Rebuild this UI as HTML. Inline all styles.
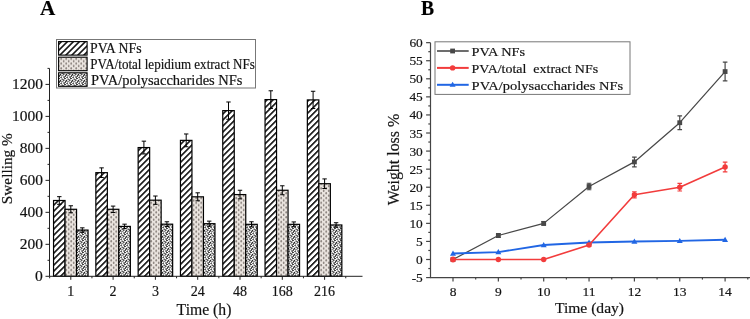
<!DOCTYPE html>
<html><head><meta charset="utf-8"><style>
html,body{margin:0;padding:0;background:#fff;}
body{width:750px;height:319px;overflow:hidden;font-family:"Liberation Serif",serif;}
svg{display:block;will-change:transform;}
</style></head><body>
<svg width="750" height="319" viewBox="0 0 750 319">
<rect width="750" height="319" fill="#fff"/>
<defs>
<pattern id="hatch" width="4.24" height="4.24" patternUnits="userSpaceOnUse" patternTransform="rotate(45)"><rect width="4.24" height="4.24" fill="#fff"/><rect x="0" y="0" width="1.5" height="4.24" fill="#000"/></pattern>
<pattern id="dots" width="5" height="4.8" patternUnits="userSpaceOnUse"><rect width="5" height="4.8" fill="#ebe5e0"/><ellipse cx="1.2" cy="1.2" rx="0.85" ry="1.25" fill="#8c847f"/><ellipse cx="3.7" cy="3.6" rx="0.85" ry="1.25" fill="#8c847f"/></pattern>
<pattern id="speck" width="6" height="6" patternUnits="userSpaceOnUse"><rect width="6" height="6" fill="#262626"/><circle cx="0.8" cy="0.9" r="1.0" fill="#fff"/><circle cx="3.2" cy="0.6" r="0.95" fill="#fff"/><circle cx="5.2" cy="1.7" r="1.0" fill="#fff"/><circle cx="2.0" cy="2.8" r="0.95" fill="#fff"/><circle cx="4.2" cy="3.6" r="1.0" fill="#fff"/><circle cx="0.6" cy="4.5" r="0.95" fill="#fff"/><circle cx="2.7" cy="5.1" r="1.0" fill="#fff"/><circle cx="5.5" cy="5.6" r="0.85" fill="#fff"/></pattern>
</defs>
<rect x="53.55" y="200.50" width="11.50" height="75.80" fill="url(#hatch)" stroke="#000" stroke-width="1.2"/>
<rect x="65.05" y="209.29" width="11.50" height="67.01" fill="url(#dots)" stroke="#000" stroke-width="1.2"/>
<rect x="76.55" y="230.08" width="11.50" height="46.22" fill="url(#speck)" stroke="#000" stroke-width="1.2"/>
<path d="M59.30 196.66V204.34M57.10 196.66H61.50M57.10 204.34H61.50" stroke="#000" stroke-width="1" fill="none"/>
<path d="M70.80 205.78V212.81M68.60 205.78H73.00M68.60 212.81H73.00" stroke="#000" stroke-width="1" fill="none"/>
<path d="M82.30 227.84V232.32M80.10 227.84H84.50M80.10 232.32H84.50" stroke="#000" stroke-width="1" fill="none"/>
<rect x="95.85" y="172.67" width="11.50" height="103.63" fill="url(#hatch)" stroke="#000" stroke-width="1.2"/>
<rect x="107.35" y="209.29" width="11.50" height="67.01" fill="url(#dots)" stroke="#000" stroke-width="1.2"/>
<rect x="118.85" y="226.40" width="11.50" height="49.90" fill="url(#speck)" stroke="#000" stroke-width="1.2"/>
<path d="M101.60 167.87V177.47M99.40 167.87H103.80M99.40 177.47H103.80" stroke="#000" stroke-width="1" fill="none"/>
<path d="M113.10 206.10V212.49M110.90 206.10H115.30M110.90 212.49H115.30" stroke="#000" stroke-width="1" fill="none"/>
<path d="M124.60 224.17V228.64M122.40 224.17H126.80M122.40 228.64H126.80" stroke="#000" stroke-width="1" fill="none"/>
<rect x="138.15" y="147.56" width="11.50" height="128.74" fill="url(#hatch)" stroke="#000" stroke-width="1.2"/>
<rect x="149.65" y="200.18" width="11.50" height="76.12" fill="url(#dots)" stroke="#000" stroke-width="1.2"/>
<rect x="161.15" y="224.17" width="11.50" height="52.13" fill="url(#speck)" stroke="#000" stroke-width="1.2"/>
<path d="M143.90 141.17V153.96M141.70 141.17H146.10M141.70 153.96H146.10" stroke="#000" stroke-width="1" fill="none"/>
<path d="M155.40 196.02V204.34M153.20 196.02H157.60M153.20 204.34H157.60" stroke="#000" stroke-width="1" fill="none"/>
<path d="M166.90 221.77V226.56M164.70 221.77H169.10M164.70 226.56H169.10" stroke="#000" stroke-width="1" fill="none"/>
<rect x="180.45" y="140.37" width="11.50" height="135.93" fill="url(#hatch)" stroke="#000" stroke-width="1.2"/>
<rect x="191.95" y="196.82" width="11.50" height="79.48" fill="url(#dots)" stroke="#000" stroke-width="1.2"/>
<rect x="203.45" y="223.69" width="11.50" height="52.61" fill="url(#speck)" stroke="#000" stroke-width="1.2"/>
<path d="M186.20 133.97V146.76M184.00 133.97H188.40M184.00 146.76H188.40" stroke="#000" stroke-width="1" fill="none"/>
<path d="M197.70 192.82V200.82M195.50 192.82H199.90M195.50 200.82H199.90" stroke="#000" stroke-width="1" fill="none"/>
<path d="M209.20 221.13V226.25M207.00 221.13H211.40M207.00 226.25H211.40" stroke="#000" stroke-width="1" fill="none"/>
<rect x="222.75" y="110.62" width="11.50" height="165.68" fill="url(#hatch)" stroke="#000" stroke-width="1.2"/>
<rect x="234.25" y="194.58" width="11.50" height="81.72" fill="url(#dots)" stroke="#000" stroke-width="1.2"/>
<rect x="245.75" y="224.33" width="11.50" height="51.97" fill="url(#speck)" stroke="#000" stroke-width="1.2"/>
<path d="M228.50 101.99V119.26M226.30 101.99H230.70M226.30 119.26H230.70" stroke="#000" stroke-width="1" fill="none"/>
<path d="M240.00 190.26V198.90M237.80 190.26H242.20M237.80 198.90H242.20" stroke="#000" stroke-width="1" fill="none"/>
<path d="M251.50 221.77V226.88M249.30 221.77H253.70M249.30 226.88H253.70" stroke="#000" stroke-width="1" fill="none"/>
<rect x="265.05" y="99.59" width="11.50" height="176.71" fill="url(#hatch)" stroke="#000" stroke-width="1.2"/>
<rect x="276.55" y="190.26" width="11.50" height="86.04" fill="url(#dots)" stroke="#000" stroke-width="1.2"/>
<rect x="288.05" y="224.33" width="11.50" height="51.97" fill="url(#speck)" stroke="#000" stroke-width="1.2"/>
<path d="M270.80 90.79V108.38M268.60 90.79H273.00M268.60 108.38H273.00" stroke="#000" stroke-width="1" fill="none"/>
<path d="M282.30 185.79V194.74M280.10 185.79H284.50M280.10 194.74H284.50" stroke="#000" stroke-width="1" fill="none"/>
<path d="M293.80 221.93V226.72M291.60 221.93H296.00M291.60 226.72H296.00" stroke="#000" stroke-width="1" fill="none"/>
<rect x="307.35" y="99.91" width="11.50" height="176.39" fill="url(#hatch)" stroke="#000" stroke-width="1.2"/>
<rect x="318.85" y="183.71" width="11.50" height="92.59" fill="url(#dots)" stroke="#000" stroke-width="1.2"/>
<rect x="330.35" y="224.97" width="11.50" height="51.33" fill="url(#speck)" stroke="#000" stroke-width="1.2"/>
<path d="M313.10 91.27V108.54M310.90 91.27H315.30M310.90 108.54H315.30" stroke="#000" stroke-width="1" fill="none"/>
<path d="M324.60 178.91V188.50M322.40 178.91H326.80M322.40 188.50H326.80" stroke="#000" stroke-width="1" fill="none"/>
<path d="M336.10 222.73V227.20M333.90 222.73H338.30M333.90 227.20H338.30" stroke="#000" stroke-width="1" fill="none"/>
<path d="M49.5 68.40V276.3H362.5" stroke="#222" stroke-width="1" fill="none"/>
<path d="M45.5 276.30H49.5" stroke="#222" stroke-width="1"/>
<text x="42.9" y="281.20" font-family="&quot;Liberation Serif&quot;, serif" stroke="#222" stroke-width="0.2" font-size="14.5" text-anchor="end" textLength="7.8" lengthAdjust="spacingAndGlyphs" fill="#111">0</text>
<path d="M47.5 260.31H49.5" stroke="#222" stroke-width="1"/>
<path d="M45.5 244.32H49.5" stroke="#222" stroke-width="1"/>
<text x="42.9" y="249.22" font-family="&quot;Liberation Serif&quot;, serif" stroke="#222" stroke-width="0.2" font-size="14.5" text-anchor="end" textLength="23.2" lengthAdjust="spacingAndGlyphs" fill="#111">200</text>
<path d="M47.5 228.32H49.5" stroke="#222" stroke-width="1"/>
<path d="M45.5 212.33H49.5" stroke="#222" stroke-width="1"/>
<text x="42.9" y="217.23" font-family="&quot;Liberation Serif&quot;, serif" stroke="#222" stroke-width="0.2" font-size="14.5" text-anchor="end" textLength="23.2" lengthAdjust="spacingAndGlyphs" fill="#111">400</text>
<path d="M47.5 196.34H49.5" stroke="#222" stroke-width="1"/>
<path d="M45.5 180.35H49.5" stroke="#222" stroke-width="1"/>
<text x="42.9" y="185.25" font-family="&quot;Liberation Serif&quot;, serif" stroke="#222" stroke-width="0.2" font-size="14.5" text-anchor="end" textLength="23.2" lengthAdjust="spacingAndGlyphs" fill="#111">600</text>
<path d="M47.5 164.36H49.5" stroke="#222" stroke-width="1"/>
<path d="M45.5 148.36H49.5" stroke="#222" stroke-width="1"/>
<text x="42.9" y="153.26" font-family="&quot;Liberation Serif&quot;, serif" stroke="#222" stroke-width="0.2" font-size="14.5" text-anchor="end" textLength="23.2" lengthAdjust="spacingAndGlyphs" fill="#111">800</text>
<path d="M47.5 132.37H49.5" stroke="#222" stroke-width="1"/>
<path d="M45.5 116.38H49.5" stroke="#222" stroke-width="1"/>
<text x="42.9" y="121.28" font-family="&quot;Liberation Serif&quot;, serif" stroke="#222" stroke-width="0.2" font-size="14.5" text-anchor="end" textLength="31.0" lengthAdjust="spacingAndGlyphs" fill="#111">1000</text>
<path d="M47.5 100.39H49.5" stroke="#222" stroke-width="1"/>
<path d="M45.5 84.40H49.5" stroke="#222" stroke-width="1"/>
<text x="42.9" y="89.30" font-family="&quot;Liberation Serif&quot;, serif" stroke="#222" stroke-width="0.2" font-size="14.5" text-anchor="end" textLength="31.0" lengthAdjust="spacingAndGlyphs" fill="#111">1200</text>
<path d="M47.5 68.40H49.5" stroke="#222" stroke-width="1"/>
<path d="M70.80 276.3V279.8" stroke="#222" stroke-width="1"/>
<text x="70.80" y="295.5" font-family="&quot;Liberation Serif&quot;, serif" stroke="#222" stroke-width="0.2" font-size="14" text-anchor="middle" fill="#111">1</text>
<path d="M113.10 276.3V279.8" stroke="#222" stroke-width="1"/>
<text x="113.10" y="295.5" font-family="&quot;Liberation Serif&quot;, serif" stroke="#222" stroke-width="0.2" font-size="14" text-anchor="middle" fill="#111">2</text>
<path d="M155.40 276.3V279.8" stroke="#222" stroke-width="1"/>
<text x="155.40" y="295.5" font-family="&quot;Liberation Serif&quot;, serif" stroke="#222" stroke-width="0.2" font-size="14" text-anchor="middle" fill="#111">3</text>
<path d="M197.70 276.3V279.8" stroke="#222" stroke-width="1"/>
<text x="197.70" y="295.5" font-family="&quot;Liberation Serif&quot;, serif" stroke="#222" stroke-width="0.2" font-size="14" text-anchor="middle" fill="#111">24</text>
<path d="M240.00 276.3V279.8" stroke="#222" stroke-width="1"/>
<text x="240.00" y="295.5" font-family="&quot;Liberation Serif&quot;, serif" stroke="#222" stroke-width="0.2" font-size="14" text-anchor="middle" fill="#111">48</text>
<path d="M282.30 276.3V279.8" stroke="#222" stroke-width="1"/>
<text x="282.30" y="295.5" font-family="&quot;Liberation Serif&quot;, serif" stroke="#222" stroke-width="0.2" font-size="14" text-anchor="middle" fill="#111">168</text>
<path d="M324.60 276.3V279.8" stroke="#222" stroke-width="1"/>
<text x="324.60" y="295.5" font-family="&quot;Liberation Serif&quot;, serif" stroke="#222" stroke-width="0.2" font-size="14" text-anchor="middle" fill="#111">216</text>
<path d="M49.65 276.3V278.3" stroke="#222" stroke-width="1"/>
<path d="M91.95 276.3V278.3" stroke="#222" stroke-width="1"/>
<path d="M134.25 276.3V278.3" stroke="#222" stroke-width="1"/>
<path d="M176.55 276.3V278.3" stroke="#222" stroke-width="1"/>
<path d="M218.85 276.3V278.3" stroke="#222" stroke-width="1"/>
<path d="M261.15 276.3V278.3" stroke="#222" stroke-width="1"/>
<path d="M303.45 276.3V278.3" stroke="#222" stroke-width="1"/>
<path d="M345.75 276.3V278.3" stroke="#222" stroke-width="1"/>
<text x="204" y="315" font-family="&quot;Liberation Serif&quot;, serif" stroke="#222" stroke-width="0.2" font-size="15.7" text-anchor="middle" fill="#111">Time (h)</text>
<text transform="translate(12.2 204.2) rotate(-90)" font-family="&quot;Liberation Serif&quot;, serif" stroke="#222" stroke-width="0.2" font-size="15.3" fill="#111">Swelling %</text>
<text x="40" y="15.3" font-family="&quot;Liberation Serif&quot;, serif" stroke="#222" stroke-width="0.2" font-size="21.7" font-weight="bold" textLength="15.3" lengthAdjust="spacingAndGlyphs" fill="#000">A</text>
<rect x="56.5" y="39.5" width="199" height="48.5" fill="#fff" stroke="#777" stroke-width="1"/>
<rect x="58.6" y="41.60" width="28.5" height="13.5" fill="url(#hatch)" stroke="#000" stroke-width="1.1"/>
<rect x="58.6" y="57.20" width="28.5" height="13.5" fill="url(#dots)" stroke="#000" stroke-width="1.1"/>
<rect x="58.6" y="72.80" width="28.5" height="13.5" fill="url(#speck)" stroke="#000" stroke-width="1.1"/>
<text x="90.0" y="53.0" font-family="&quot;Liberation Serif&quot;, serif" stroke="#222" stroke-width="0.2" font-size="14" textLength="51.5" lengthAdjust="spacingAndGlyphs" fill="#111">PVA NFs</text>
<text x="90.3" y="68.9" font-family="&quot;Liberation Serif&quot;, serif" stroke="#222" stroke-width="0.2" font-size="14" textLength="164.5" lengthAdjust="spacingAndGlyphs" fill="#111">PVA/total lepidium extract NFs</text>
<text x="91.0" y="85.1" font-family="&quot;Liberation Serif&quot;, serif" stroke="#222" stroke-width="0.2" font-size="14" textLength="151.5" lengthAdjust="spacingAndGlyphs" fill="#111">PVA/polysaccharides NFs</text>
<path d="M430.5 42.66V277.57H750" stroke="#444" stroke-width="1.2" fill="none"/>
<path d="M426.1 277.57H430.5" stroke="#444" stroke-width="1.2"/>
<text x="422.8" y="282.07" font-family="&quot;Liberation Serif&quot;, serif" stroke="#222" stroke-width="0.2" font-size="13.4" text-anchor="end" fill="#111">-5</text>
<path d="M428.3 268.54H430.5" stroke="#444" stroke-width="1.2"/>
<path d="M426.1 259.50H430.5" stroke="#444" stroke-width="1.2"/>
<text x="422.8" y="264.00" font-family="&quot;Liberation Serif&quot;, serif" stroke="#222" stroke-width="0.2" font-size="13.4" text-anchor="end" fill="#111">0</text>
<path d="M428.3 250.47H430.5" stroke="#444" stroke-width="1.2"/>
<path d="M426.1 241.43H430.5" stroke="#444" stroke-width="1.2"/>
<text x="422.8" y="245.93" font-family="&quot;Liberation Serif&quot;, serif" stroke="#222" stroke-width="0.2" font-size="13.4" text-anchor="end" fill="#111">5</text>
<path d="M428.3 232.40H430.5" stroke="#444" stroke-width="1.2"/>
<path d="M426.1 223.36H430.5" stroke="#444" stroke-width="1.2"/>
<text x="422.8" y="227.86" font-family="&quot;Liberation Serif&quot;, serif" stroke="#222" stroke-width="0.2" font-size="13.4" text-anchor="end" fill="#111">10</text>
<path d="M428.3 214.32H430.5" stroke="#444" stroke-width="1.2"/>
<path d="M426.1 205.29H430.5" stroke="#444" stroke-width="1.2"/>
<text x="422.8" y="209.79" font-family="&quot;Liberation Serif&quot;, serif" stroke="#222" stroke-width="0.2" font-size="13.4" text-anchor="end" fill="#111">15</text>
<path d="M428.3 196.25H430.5" stroke="#444" stroke-width="1.2"/>
<path d="M426.1 187.22H430.5" stroke="#444" stroke-width="1.2"/>
<text x="422.8" y="191.72" font-family="&quot;Liberation Serif&quot;, serif" stroke="#222" stroke-width="0.2" font-size="13.4" text-anchor="end" fill="#111">20</text>
<path d="M428.3 178.19H430.5" stroke="#444" stroke-width="1.2"/>
<path d="M426.1 169.15H430.5" stroke="#444" stroke-width="1.2"/>
<text x="422.8" y="173.65" font-family="&quot;Liberation Serif&quot;, serif" stroke="#222" stroke-width="0.2" font-size="13.4" text-anchor="end" fill="#111">25</text>
<path d="M428.3 160.12H430.5" stroke="#444" stroke-width="1.2"/>
<path d="M426.1 151.08H430.5" stroke="#444" stroke-width="1.2"/>
<text x="422.8" y="155.58" font-family="&quot;Liberation Serif&quot;, serif" stroke="#222" stroke-width="0.2" font-size="13.4" text-anchor="end" fill="#111">30</text>
<path d="M428.3 142.05H430.5" stroke="#444" stroke-width="1.2"/>
<path d="M426.1 133.01H430.5" stroke="#444" stroke-width="1.2"/>
<text x="422.8" y="137.51" font-family="&quot;Liberation Serif&quot;, serif" stroke="#222" stroke-width="0.2" font-size="13.4" text-anchor="end" fill="#111">35</text>
<path d="M428.3 123.97H430.5" stroke="#444" stroke-width="1.2"/>
<path d="M426.1 114.94H430.5" stroke="#444" stroke-width="1.2"/>
<text x="422.8" y="119.44" font-family="&quot;Liberation Serif&quot;, serif" stroke="#222" stroke-width="0.2" font-size="13.4" text-anchor="end" fill="#111">40</text>
<path d="M428.3 105.91H430.5" stroke="#444" stroke-width="1.2"/>
<path d="M426.1 96.87H430.5" stroke="#444" stroke-width="1.2"/>
<text x="422.8" y="101.37" font-family="&quot;Liberation Serif&quot;, serif" stroke="#222" stroke-width="0.2" font-size="13.4" text-anchor="end" fill="#111">45</text>
<path d="M428.3 87.84H430.5" stroke="#444" stroke-width="1.2"/>
<path d="M426.1 78.80H430.5" stroke="#444" stroke-width="1.2"/>
<text x="422.8" y="83.30" font-family="&quot;Liberation Serif&quot;, serif" stroke="#222" stroke-width="0.2" font-size="13.4" text-anchor="end" fill="#111">50</text>
<path d="M428.3 69.77H430.5" stroke="#444" stroke-width="1.2"/>
<path d="M426.1 60.73H430.5" stroke="#444" stroke-width="1.2"/>
<text x="422.8" y="65.23" font-family="&quot;Liberation Serif&quot;, serif" stroke="#222" stroke-width="0.2" font-size="13.4" text-anchor="end" fill="#111">55</text>
<path d="M428.3 51.69H430.5" stroke="#444" stroke-width="1.2"/>
<path d="M426.1 42.66H430.5" stroke="#444" stroke-width="1.2"/>
<text x="422.8" y="47.16" font-family="&quot;Liberation Serif&quot;, serif" stroke="#222" stroke-width="0.2" font-size="13.4" text-anchor="end" fill="#111">60</text>
<path d="M453.00 277.57V281.57" stroke="#444" stroke-width="1.2"/>
<text x="453.00" y="295.6" font-family="&quot;Liberation Serif&quot;, serif" stroke="#222" stroke-width="0.2" font-size="13.5" text-anchor="middle" fill="#111">8</text>
<path d="M475.68 277.57V279.57" stroke="#444" stroke-width="1.2"/>
<path d="M498.35 277.57V281.57" stroke="#444" stroke-width="1.2"/>
<text x="498.35" y="295.6" font-family="&quot;Liberation Serif&quot;, serif" stroke="#222" stroke-width="0.2" font-size="13.5" text-anchor="middle" fill="#111">9</text>
<path d="M521.02 277.57V279.57" stroke="#444" stroke-width="1.2"/>
<path d="M543.70 277.57V281.57" stroke="#444" stroke-width="1.2"/>
<text x="543.70" y="295.6" font-family="&quot;Liberation Serif&quot;, serif" stroke="#222" stroke-width="0.2" font-size="13.5" text-anchor="middle" fill="#111">10</text>
<path d="M566.38 277.57V279.57" stroke="#444" stroke-width="1.2"/>
<path d="M589.05 277.57V281.57" stroke="#444" stroke-width="1.2"/>
<text x="589.05" y="295.6" font-family="&quot;Liberation Serif&quot;, serif" stroke="#222" stroke-width="0.2" font-size="13.5" text-anchor="middle" fill="#111">11</text>
<path d="M611.73 277.57V279.57" stroke="#444" stroke-width="1.2"/>
<path d="M634.40 277.57V281.57" stroke="#444" stroke-width="1.2"/>
<text x="634.40" y="295.6" font-family="&quot;Liberation Serif&quot;, serif" stroke="#222" stroke-width="0.2" font-size="13.5" text-anchor="middle" fill="#111">12</text>
<path d="M657.08 277.57V279.57" stroke="#444" stroke-width="1.2"/>
<path d="M679.75 277.57V281.57" stroke="#444" stroke-width="1.2"/>
<text x="679.75" y="295.6" font-family="&quot;Liberation Serif&quot;, serif" stroke="#222" stroke-width="0.2" font-size="13.5" text-anchor="middle" fill="#111">13</text>
<path d="M702.42 277.57V279.57" stroke="#444" stroke-width="1.2"/>
<path d="M725.10 277.57V281.57" stroke="#444" stroke-width="1.2"/>
<text x="725.10" y="295.6" font-family="&quot;Liberation Serif&quot;, serif" stroke="#222" stroke-width="0.2" font-size="13.5" text-anchor="middle" fill="#111">14</text>
<path d="M747.78 277.57V279.57" stroke="#444" stroke-width="1.2"/>
<text x="589.5" y="313" font-family="&quot;Liberation Serif&quot;, serif" stroke="#222" stroke-width="0.2" font-size="15.6" text-anchor="middle" fill="#111">Time (day)</text>
<text transform="translate(399.2 205.3) rotate(-90)" font-family="&quot;Liberation Serif&quot;, serif" stroke="#222" stroke-width="0.2" font-size="16" textLength="91.5" lengthAdjust="spacingAndGlyphs" fill="#111">Weight loss %</text>
<text x="421" y="15.3" font-family="&quot;Liberation Serif&quot;, serif" stroke="#222" stroke-width="0.2" font-size="21.3" font-weight="bold" textLength="13.1" lengthAdjust="spacingAndGlyphs" fill="#000">B</text>
<polyline points="453.00,259.50 498.35,235.50 543.70,223.36 589.05,186.50 634.40,161.92 679.75,122.71 725.10,71.57" fill="none" stroke="#484848" stroke-width="1.25" stroke-linejoin="round"/>
<path d="M498.35 233.70V237.31M496.05 233.70H500.65M496.05 237.31H500.65" stroke="#484848" stroke-width="1.2" fill="none"/>
<path d="M543.70 221.55V225.17M541.40 221.55H546.00M541.40 225.17H546.00" stroke="#484848" stroke-width="1.2" fill="none"/>
<path d="M589.05 183.24V189.75M586.75 183.24H591.35M586.75 189.75H591.35" stroke="#484848" stroke-width="1.2" fill="none"/>
<path d="M634.40 157.04V166.80M632.10 157.04H636.70M632.10 166.80H636.70" stroke="#484848" stroke-width="1.2" fill="none"/>
<path d="M679.75 115.84V129.58M677.45 115.84H682.05M677.45 129.58H682.05" stroke="#484848" stroke-width="1.2" fill="none"/>
<path d="M725.10 62.18V80.97M722.80 62.18H727.40M722.80 80.97H727.40" stroke="#484848" stroke-width="1.2" fill="none"/>
<rect x="450.60" y="257.10" width="4.8" height="4.8" fill="#484848"/>
<rect x="495.95" y="233.10" width="4.8" height="4.8" fill="#484848"/>
<rect x="541.30" y="220.96" width="4.8" height="4.8" fill="#484848"/>
<rect x="586.65" y="184.10" width="4.8" height="4.8" fill="#484848"/>
<rect x="632.00" y="159.52" width="4.8" height="4.8" fill="#484848"/>
<rect x="677.35" y="120.31" width="4.8" height="4.8" fill="#484848"/>
<rect x="722.70" y="69.17" width="4.8" height="4.8" fill="#484848"/>
<polyline points="453.00,253.54 498.35,252.09 543.70,245.04 589.05,242.51 634.40,241.43 679.75,240.89 725.10,239.80" fill="none" stroke="#2166e4" stroke-width="1.9" stroke-linejoin="round"/>
<path d="M450.00 255.74L453.00 250.54L456.00 255.74Z" fill="#2166e4"/>
<path d="M495.35 254.29L498.35 249.09L501.35 254.29Z" fill="#2166e4"/>
<path d="M540.70 247.24L543.70 242.04L546.70 247.24Z" fill="#2166e4"/>
<path d="M586.05 244.71L589.05 239.51L592.05 244.71Z" fill="#2166e4"/>
<path d="M631.40 243.63L634.40 238.43L637.40 243.63Z" fill="#2166e4"/>
<path d="M676.75 243.09L679.75 237.89L682.75 243.09Z" fill="#2166e4"/>
<path d="M722.10 242.00L725.10 236.80L728.10 242.00Z" fill="#2166e4"/>
<polyline points="453.00,259.50 498.35,259.50 543.70,259.50 589.05,245.04 634.40,194.81 679.75,187.22 725.10,166.98" fill="none" stroke="#f23c3c" stroke-width="1.6" stroke-linejoin="round"/>
<path d="M589.05 243.96V246.13M586.75 243.96H591.35M586.75 246.13H591.35" stroke="#f23c3c" stroke-width="1.2" fill="none"/>
<path d="M634.40 191.74V197.88M632.10 191.74H636.70M632.10 197.88H636.70" stroke="#f23c3c" stroke-width="1.2" fill="none"/>
<path d="M679.75 183.43V191.01M677.45 183.43H682.05M677.45 191.01H682.05" stroke="#f23c3c" stroke-width="1.2" fill="none"/>
<path d="M725.10 162.10V171.86M722.80 162.10H727.40M722.80 171.86H727.40" stroke="#f23c3c" stroke-width="1.2" fill="none"/>
<circle cx="453.00" cy="259.50" r="2.9" fill="#f23c3c"/>
<circle cx="498.35" cy="259.50" r="2.7" fill="#f23c3c"/>
<circle cx="543.70" cy="259.50" r="2.7" fill="#f23c3c"/>
<circle cx="589.05" cy="245.04" r="2.7" fill="#f23c3c"/>
<circle cx="634.40" cy="194.81" r="2.7" fill="#f23c3c"/>
<circle cx="679.75" cy="187.22" r="2.7" fill="#f23c3c"/>
<circle cx="725.10" cy="166.98" r="2.7" fill="#f23c3c"/>
<rect x="435" y="41.8" width="195" height="52.6" fill="#fff" stroke="#777" stroke-width="1"/>
<path d="M437 51.0H468.7" stroke="#484848" stroke-width="1.6"/>
<rect x="450.20000000000005" y="48.6" width="4.8" height="4.8" fill="#484848"/>
<path d="M437 67.9H468.7" stroke="#f23c3c" stroke-width="2.0"/>
<circle cx="452.6" cy="67.9" r="2.7" fill="#f23c3c"/>
<path d="M437 84.8H468.7" stroke="#2166e4" stroke-width="2.0"/>
<path d="M449.6 86.8 L452.6 81.8 L455.6 86.8Z" fill="#2166e4"/>
<text x="471.6" y="56.0" font-family="&quot;Liberation Serif&quot;, serif" stroke="#222" stroke-width="0.2" font-size="13.5" textLength="53.5" lengthAdjust="spacingAndGlyphs" fill="#111">PVA NFs</text>
<text x="471.6" y="72.8" font-family="&quot;Liberation Serif&quot;, serif" stroke="#222" stroke-width="0.2" font-size="13.5" textLength="126.5" lengthAdjust="spacingAndGlyphs" fill="#111">PVA/total&#160; extract NFs</text>
<text x="471.6" y="89.5" font-family="&quot;Liberation Serif&quot;, serif" stroke="#222" stroke-width="0.2" font-size="13.5" textLength="151.5" lengthAdjust="spacingAndGlyphs" fill="#111">PVA/polysaccharides NFs</text>
</svg>
</body></html>
